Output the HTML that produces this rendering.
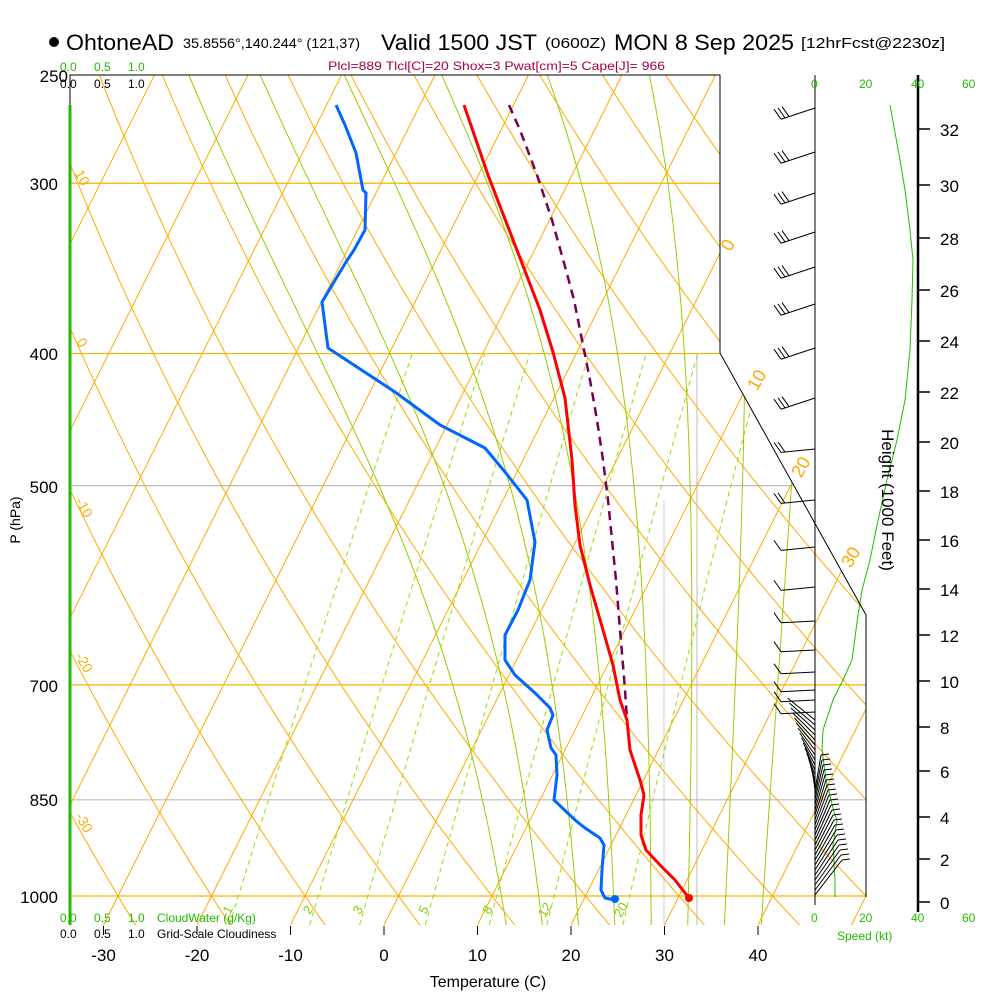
<!DOCTYPE html>
<html><head><meta charset="utf-8"><style>
body{margin:0;background:#fff}
svg{display:block;font-family:"Liberation Sans",sans-serif}
</style></head><body>
<svg id="s" width="1000" height="1000" viewBox="0 0 1000 1000" xmlns="http://www.w3.org/2000/svg">
<defs><clipPath id="cp"><polygon points="70,75 720,75 720,353 866,615 866,925 70,925"/></clipPath></defs>
<g id="grid" clip-path="url(#cp)"></g>
<g id="prof"></g>
<polyline points="70,105 70,75 720,75 720,353 866,615 866,897" fill="none" stroke="#000" stroke-width="1"/>
<line x1="70" y1="105" x2="70" y2="925" stroke="#22bb00" stroke-width="3"/>
<line x1="815" y1="75" x2="815" y2="905" stroke="#000" stroke-width="1"/>
<line x1="918" y1="75" x2="918" y2="912" stroke="#000" stroke-width="2.5"/>
<g id="ht" font-size="17"></g>
<circle cx="54" cy="42" r="5" fill="#000"/>
<text x="66" y="50" font-size="22" textLength="108" lengthAdjust="spacingAndGlyphs">OhtoneAD</text>
<text x="183" y="48" font-size="14" textLength="177" lengthAdjust="spacingAndGlyphs">35.8556°,140.244° (121,37)</text>
<text x="381" y="50" font-size="22" textLength="156" lengthAdjust="spacingAndGlyphs">Valid 1500 JST</text>
<text x="545" y="48" font-size="15" textLength="61" lengthAdjust="spacingAndGlyphs">(0600Z)</text>
<text x="614" y="50" font-size="22" textLength="180" lengthAdjust="spacingAndGlyphs">MON 8 Sep 2025</text>
<text x="801" y="48" font-size="15" textLength="144" lengthAdjust="spacingAndGlyphs">[12hrFcst@2230z]</text>
<text x="328" y="70" font-size="12" fill="#aa0044" textLength="337" lengthAdjust="spacingAndGlyphs">Plcl=889 Tlcl[C]=20 Shox=3 Pwat[cm]=5 Cape[J]= 966</text>
<g font-size="12" fill="#22bb00"><text x="60" y="71">0.0</text><text x="94" y="71">0.5</text><text x="128" y="71">1.0</text>
<text x="60" y="922">0.0</text><text x="94" y="922">0.5</text><text x="128" y="922">1.0</text><text x="157" y="922">CloudWater (g/Kg)</text>
<text x="811" y="88">0</text><text x="859" y="88">20</text><text x="911" y="88">40</text><text x="962" y="88">60</text>
<text x="811" y="922">0</text><text x="859" y="922">20</text><text x="911" y="922">40</text><text x="962" y="922">60</text>
<text x="837" y="940">Speed (kt)</text></g>
<g font-size="12"><text x="60" y="88">0.0</text><text x="94" y="88">0.5</text><text x="128" y="88">1.0</text>
<text x="60" y="938">0.0</text><text x="94" y="938">0.5</text><text x="128" y="938">1.0</text><text x="157" y="938">Grid-Scale Cloudiness</text></g>
<g font-size="17" text-anchor="end"><text x="68" y="82">250</text><text x="58" y="190">300</text><text x="58" y="360">400</text><text x="58" y="493">500</text><text x="58" y="692">700</text><text x="58" y="806">850</text><text x="58" y="903">1000</text></g>
<text transform="translate(20,520) rotate(-90)" font-size="14" text-anchor="middle">P (hPa)</text>
<text transform="translate(882,500) rotate(90)" font-size="17" text-anchor="middle">Height (1000 Feet)</text>
<g id="tx" font-size="17" text-anchor="middle"></g>
<text x="488" y="987" font-size="16" text-anchor="middle">Temperature (C)</text>
<g font-size="14" fill="#ffaa00" text-anchor="middle">
<text transform="translate(78,180) rotate(60)">10</text><text transform="translate(78,345) rotate(60)">0</text>
<text transform="translate(80,510) rotate(60)">-10</text><text transform="translate(80,665) rotate(60)">-20</text><text transform="translate(80,825) rotate(60)">-30</text>
<text transform="translate(733,248) rotate(-60)" font-size="18">0</text><text transform="translate(762,383) rotate(-60)" font-size="18">10</text>
<text transform="translate(806,470) rotate(-60)" font-size="18">20</text><text transform="translate(856,560) rotate(-60)" font-size="18">30</text></g>
<g id="mr" font-size="13" fill="#88cc00" text-anchor="middle"></g>
<g id="wb" stroke="#000" stroke-width="1" fill="none"></g>
</svg>
<script>
var NS="http://www.w3.org/2000/svg";
function Y(p){return 896-592*Math.log(1000/p);}
function X(T,y){return 384+9.35*T+(925-y)/2;}
function el(par,tag,at){var e=document.createElementNS(NS,tag);for(var k in at)e.setAttribute(k,at[k]);document.getElementById(par).appendChild(e);return e;}
function pl(par,pts,st,w,dash){var s=pts.map(function(q){return q[0].toFixed(1)+","+q[1].toFixed(1)}).join(" ");var a={points:s,fill:"none",stroke:st,"stroke-width":w};if(dash)a["stroke-dasharray"]=dash;return el(par,"polyline",a);}
[[300,"#ffb000"],[400,"#ffb000"],[500,"#bbbbbb"],[700,"#ffb000"],[850,"#bbbbbb"],[1000,"#ffb000"]].forEach(function(h){var y=Y(h[0]);el("grid","line",{x1:70,x2:866,y1:y,y2:y,stroke:h[1],"stroke-width":1.2});});
el("grid","line",{x1:697,x2:697,y1:353,y2:925,stroke:"#bbbbbb","stroke-width":1});
el("grid","line",{x1:664,x2:664,y1:500,y2:925,stroke:"#cccccc","stroke-width":1});
for(var T=-140;T<=60;T+=10){var y1=925,y2=75;pl("grid",[[X(T,y1),y1],[X(T,y2),y2]],"#ffaa00",1);}
for(var th=-60;th<=220;th+=10){var pts=[];for(var p=1060;p>=240;p-=10){var Tk=(th+273.15)*Math.pow(p/1000,0.2857)-273.15;var y=Y(p);pts.push([X(Tk,y),y]);}pl("grid",pts,"#ffaa00",1);}
function es(T){return 6.112*Math.exp(17.67*T/(T+243.5));}
function dTdp(Tk,p){var rs=0.622*es(Tk-273.15)/(p-es(Tk-273.15));var L=2.5e6,Rd=287,cp=1004;return (Rd*Tk+L*rs)/(p*(cp+L*L*rs*0.622/(Rd*Tk*Tk)));}
for(var tw=11;tw<=39;tw+=4){var Tk=tw+273.15,pts=[];var dn=[];var t2=Tk;for(var p=1000;p<1060;p+=5){dn.push([p,t2]);t2+=dTdp(t2,p)*5;}
 dn.reverse().forEach(function(a){var y=Y(a[0]);pts.push([X(a[1]-273.15,y),y]);});
 for(var p=1000;p>=240;p-=5){var y=Y(p);pts.push([X(Tk-273.15,y),y]);Tk-=dTdp(Tk,p)*5;}
 pl("grid",pts,"#99cc00",1);}
[[1,"1"],[2,"2"],[3,"3"],[5,"5"],[8,"8"],[12,"12"],[20,"20"]].forEach(function(m){var pts=[];for(var p=1050;p>=400;p-=10){var e=m[0]*p/(622+m[0]);var l=Math.log(e/6.112);var Td=243.5*l/(17.67-l);var y=Y(p);pts.push([X(Td,y),y]);}
 pl("grid",pts,"#99dd00",1,"5,4");var q=pts[1];el("mr","text",{x:q[0]-3,y:914,transform:"rotate(-60 "+(q[0]-3)+" 910)"}).textContent=m[1];});
for(var t=-30;t<=40;t+=10){var x=384+9.35*t;el("tx","line",{x1:x,x2:x,y1:926,y2:935,stroke:"#000"});el("tx","text",{x:x,y:961}).textContent=t;}
[[0,902],[2,859],[4,817],[6,771],[8,727],[10,681],[12,635],[14,589],[16,540],[18,491],[20,442],[22,392],[24,341],[26,290],[28,238],[30,185],[32,129]].forEach(function(h){el("ht","line",{x1:918,x2:930,y1:h[1],y2:h[1],stroke:"#000","stroke-width":1.5});el("ht","text",{x:940,y:h[1]+7}).textContent=h[0];});
var tp=[[464,105],[488,175],[515,245],[540,310],[553,352],[565,398],[572,460],[575,505],[580,545],[590,585],[603,630],[613,665],[620,700],[627,720],[630,750],[640,780],[644,795],[641,815],[641,835],[646,850],[660,865],[675,880],[689,898]];
var pp=[[509,105],[520,130],[537,175],[552,220],[566,270],[574,300],[583,345],[590,380],[597,420],[603,460],[608,500],[612,540],[616,580],[620,630],[623,665],[625,690],[627,720]];
var dp=[[336,105],[345,125],[356,153],[363,190],[366,193],[365,230],[354,250],[346,262],[322,302],[328,348],[395,392],[440,425],[485,448],[505,472],[527,500],[535,542],[530,580],[518,610],[505,635],[505,660],[515,675],[535,693],[550,708],[553,715],[547,730],[551,748],[556,755],[557,775],[554,800],[575,820],[585,828],[600,838],[604,845],[602,870],[601,890],[605,898],[615,900]];
pl("prof",pp,"#770055",2.5,"9,6");pl("prof",tp,"#ff0000",3);pl("prof",dp,"#0066ff",3);
el("prof","circle",{cx:689,cy:898,r:4,fill:"#ff0000"});el("prof","circle",{cx:615,cy:899,r:4,fill:"#0066ff"});
pl("prof",[[890,105],[900,160],[905,190],[910,230],[913,260],[912,300],[910,350],[905,400],[897,440],[887,480],[877,525],[870,560],[862,590],[858,615],[852,660],[843,680],[833,700],[823,730],[822,750],[826,780],[834,812],[837,820],[833,845],[835,880],[835,897]],"#22bb00",1);
var bs=[[108,3],[152,3],[193,3],[232,3],[267,3],[304,3],[348,3],[398,3],[449,2],[500,2],[547,1],[587,1],[621,1],[650,1],[672,1],[690,1],[700,1],[712,1]];
bs.forEach(function(b,i){var y=b[0];var ang=i<8?0.33:(i<12?0.1:0.05);var L=34;var ex=815-L,ey=y+L*ang;
 el("wb","line",{x1:815,y1:y,x2:ex,y2:ey});
 for(var k=0;k<b[1];k++){var fx=ex+k*4,fy=ey-k*4*ang;el("wb","line",{x1:fx,y1:fy,x2:fx-7,y2:fy-10});}});
for(var y=720;y<=790;y+=5){el("wb","line",{x1:815,y1:y,x2:815-(790-y)*0.35-3,y2:y-22});}
for(var y=790;y<=897;y+=5){var dx=6+(y-790)*0.2;el("wb","line",{x1:815,y1:y,x2:815+dx,y2:y-35});el("wb","line",{x1:815+dx,y1:y-35,x2:815+dx+8,y2:y-36});}
</script>
</body></html>
